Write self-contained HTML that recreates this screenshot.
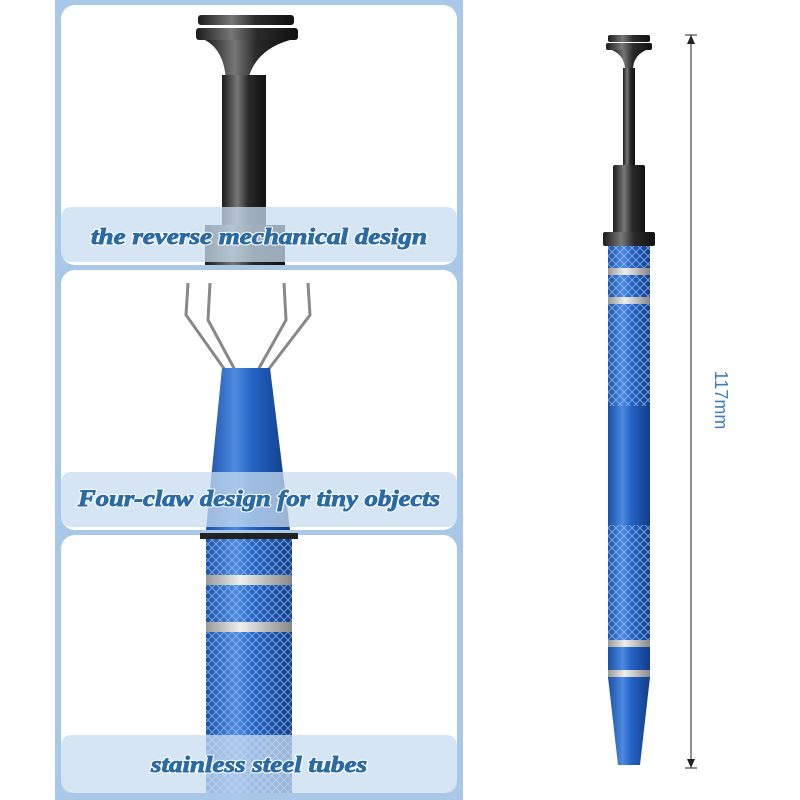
<!DOCTYPE html>
<html><head><style>
html,body{margin:0;padding:0;background:#fff;width:800px;height:800px;overflow:hidden}
</style></head><body>
<svg width="800" height="800" viewBox="0 0 800 800" xmlns="http://www.w3.org/2000/svg">
<defs>
<linearGradient id="blk" x1="0" x2="1"><stop offset="0" stop-color="#1c1c1c"/><stop offset=".35" stop-color="#777"/><stop offset=".6" stop-color="#2a2a2a"/><stop offset="1" stop-color="#111"/></linearGradient>
<linearGradient id="blu" x1="0" x2="1"><stop offset="0" stop-color="#1a4fa8"/><stop offset=".35" stop-color="#4d8ae0"/><stop offset=".55" stop-color="#2463c4"/><stop offset="1" stop-color="#123c88"/></linearGradient>
<linearGradient id="sil" x1="0" x2="1"><stop offset="0" stop-color="#999"/><stop offset=".4" stop-color="#eee"/><stop offset="1" stop-color="#888"/></linearGradient>
<pattern id="knurl" width="8" height="8" patternUnits="userSpaceOnUse"><path d="M0 0L8 8M8 0L0 8" stroke="#9cc2f4" stroke-width="1" opacity=".7"/></pattern>
</defs>
<rect x="55" y="0" width="408" height="800" fill="#a9c8e8"/>
<rect x="61" y="5" width="396" height="260" rx="14" fill="#fff"/>
<rect x="61" y="270" width="396" height="260" rx="14" fill="#fff"/>
<rect x="61" y="535" width="396" height="258" rx="14" fill="#fff"/>
<rect x="198" y="15" width="96" height="10" rx="3" fill="url(#blk)"/>
<rect x="196" y="28" width="102" height="12" rx="3" fill="url(#blk)"/>
<path d="M205 40 L290 40 Q255 50 248 80 L226 80 Q224 50 205 40Z" fill="url(#blk)"/>
<rect x="222" y="75" width="44" height="160" fill="url(#blk)"/>
<rect x="205" y="225" width="80" height="40" fill="url(#blk)"/>
<g stroke="#888" stroke-width="3" fill="none">
<path d="M188 283 L186 315 L225 370"/><path d="M210 283 L208 320 L235 370"/>
<path d="M284 283 L286 320 L258 370"/><path d="M308 283 L310 315 L268 370"/>
</g>
<path d="M222 368 L270 368 L290 530 L206 530Z" fill="url(#blu)"/>
<rect x="206" y="535" width="86" height="258" fill="url(#blu)"/>
<rect x="206" y="535" width="86" height="258" fill="url(#knurl)"/>
<rect x="200" y="533" width="98" height="6" fill="#222"/>
<rect x="206" y="575" width="86" height="10" fill="url(#sil)"/>
<rect x="206" y="622" width="86" height="10" fill="url(#sil)"/>
<rect x="61" y="207" width="396" height="55" rx="10" fill="#c8dcef" opacity=".75"/>
<rect x="61" y="472" width="396" height="55" rx="10" fill="#c8dcef" opacity=".75"/>
<rect x="61" y="735" width="396" height="58" rx="10" fill="#c8dcef" opacity=".75"/>
<g font-size="23" text-anchor="middle" font-family="Liberation Serif, serif" font-style="italic" font-weight="bold">
<g fill="#fff" stroke="#fff" stroke-width="3" stroke-linejoin="round">
<text x="259" y="244" textLength="336" lengthAdjust="spacingAndGlyphs">the reverse mechanical design</text>
<text x="259" y="506" textLength="362" lengthAdjust="spacingAndGlyphs">Four-claw design for tiny objects</text>
<text x="259" y="772" textLength="216" lengthAdjust="spacingAndGlyphs">stainless steel tubes</text>
</g>
<g fill="#2a6aa5" stroke="#2a6aa5" stroke-width="0.9">
<text x="259" y="244" textLength="336" lengthAdjust="spacingAndGlyphs">the reverse mechanical design</text>
<text x="259" y="506" textLength="362" lengthAdjust="spacingAndGlyphs">Four-claw design for tiny objects</text>
<text x="259" y="772" textLength="216" lengthAdjust="spacingAndGlyphs">stainless steel tubes</text>
</g>
</g>
<rect x="608" y="35" width="42" height="7" rx="2" fill="url(#blk)"/>
<rect x="606" y="43" width="46" height="7" rx="2" fill="url(#blk)"/>
<path d="M612 50 L646 50 Q633 56 633 70 L625 70 Q625 56 612 50Z" fill="url(#blk)"/>
<rect x="623" y="68" width="12" height="100" fill="url(#blk)"/>
<rect x="613" y="165" width="32" height="70" rx="2" fill="url(#blk)"/>
<rect x="603" y="232" width="52" height="14" rx="2" fill="url(#blk)"/>
<rect x="608" y="246" width="42" height="432" fill="url(#blu)"/>
<rect x="608" y="246" width="42" height="160" fill="url(#knurl)"/>
<rect x="608" y="525" width="42" height="120" fill="url(#knurl)"/>
<rect x="608" y="268" width="42" height="7" fill="url(#sil)"/>
<rect x="608" y="297" width="42" height="7" fill="url(#sil)"/>
<rect x="608" y="640" width="42" height="7" fill="url(#sil)"/>
<rect x="608" y="670" width="42" height="7" fill="url(#sil)"/>
<path d="M608 677 L650 677 L640 765 L618 765Z" fill="url(#blu)"/>
<line x1="691" y1="35" x2="691" y2="768" stroke="#222" stroke-width="1"/>
<line x1="685" y1="35" x2="697" y2="35" stroke="#222"/>
<line x1="685" y1="768" x2="697" y2="768" stroke="#222"/>
<path d="M687 44 L691 35 L695 44Z M687 759 L691 768 L695 759Z" fill="#222"/>
<text x="715" y="400" transform="rotate(90 715 400)" font-family="Liberation Sans, sans-serif" font-size="18" fill="#3c7fc0" text-anchor="middle">117mm</text>
</svg>
</body></html>
